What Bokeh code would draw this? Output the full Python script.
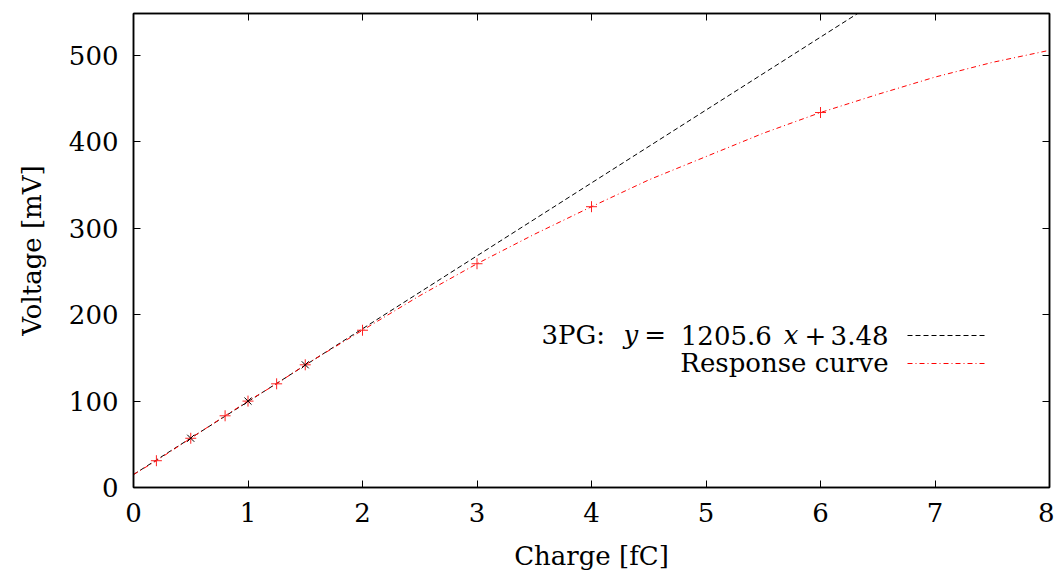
from bokeh.plotting import figure
from bokeh.models import (Range1d, FixedTicker, LinearAxis, Label, Legend, LegendItem)
from bokeh.embed import file_html
from bokeh.resources import INLINE

# ---- data ----
resp_x = [0.2, 0.5, 0.8, 1.0, 1.25, 1.5, 2.0, 3.0, 4.0, 6.0]
resp_y = [31, 57, 83, 100, 120, 142, 182, 259, 325, 434]
curve_x = [0, 0.2, 0.5, 0.8, 1.0, 1.25, 1.5, 2.0, 2.5, 3.0, 3.5, 4.0, 4.5, 5.0, 5.5, 6.0, 6.5, 7.0, 7.5, 8.0]
curve_y = [15, 31, 57, 83, 100, 120, 142, 182, 222, 259, 293, 325, 356, 383, 410, 434, 455, 475, 492, 506]
fit_pts_x = [0.5, 1.0, 1.5]
fit_pts_y = [57, 100, 142]
fit_line_x = [0, 8]
fit_line_y = [15, 690]
x_ticks = [0, 1, 2, 3, 4, 5, 6, 7, 8]
y_ticks = [0, 100, 200, 300, 400, 500]

FONT = "DejaVu Serif"
FS = "26px"

p = figure(frame_width=916, frame_height=474, output_backend="svg", toolbar_location=None,
           x_range=Range1d(0, 8), y_range=Range1d(0, 548.6),
           min_border_left=133, min_border_right=5, min_border_top=13, min_border_bottom=84,
           background_fill_color="white", border_fill_color="white")
p.xgrid.visible = False
p.ygrid.visible = False
p.outline_line_color = "black"
p.outline_line_width = 1.5

def style_axis(ax, ticks, show_labels):
    ax.ticker = FixedTicker(ticks=ticks)
    ax.major_tick_in = 7
    ax.major_tick_out = 0
    ax.minor_tick_in = 0
    ax.minor_tick_out = 0
    ax.axis_line_color = "black"
    ax.axis_line_width = 1.5
    ax.major_tick_line_color = "black"
    ax.major_tick_line_width = 1
    ax.major_label_text_font = FONT
    ax.major_label_text_color = "black"
    if show_labels:
        ax.major_label_text_font_size = FS
    else:
        ax.major_label_text_font_size = "0px"
        ax.major_label_text_color = None
        ax.major_label_standoff = 0

style_axis(p.xaxis[0], x_ticks, True)
style_axis(p.yaxis[0], y_ticks, True)
p.xaxis[0].major_label_standoff = 15
p.yaxis[0].major_label_standoff = 15
p.xaxis.axis_label = "Charge [fC]"
p.yaxis.axis_label = "Voltage [mV]"
for ax in (p.xaxis[0], p.yaxis[0]):
    ax.axis_label_text_font = FONT
    ax.axis_label_text_font_size = FS
    ax.axis_label_text_font_style = "normal"
    ax.axis_label_text_color = "black"
p.xaxis[0].axis_label_standoff = 16
p.yaxis[0].axis_label_standoff = 19

top = LinearAxis()
style_axis(top, x_ticks, False)
p.add_layout(top, "above")
right = LinearAxis()
style_axis(right, y_ticks, False)
p.add_layout(right, "right")

# ---- marks ----
r_fit = p.line(fit_line_x, fit_line_y, line_color="black", line_width=1, line_dash="5 3")
r_curve = p.line(curve_x, curve_y, line_color="#ff0000", line_width=1, line_dash="5 3 1 3")
p.scatter(resp_x, resp_y, marker="cross", size=11, line_color="#ff2020", line_width=1)
p.scatter(fit_pts_x, fit_pts_y, marker="x", size=10, line_color="black", line_width=1)

# ---- legend (samples) ----
legend = Legend(items=[LegendItem(label=" ", renderers=[r_fit]),
                       LegendItem(label=" ", renderers=[r_curve])],
                location=(774, 110), glyph_width=79, glyph_height=28,
                label_height=28, label_width=1, label_standoff=0,
                label_text_font_size="8px", label_text_color=None,
                padding=0, spacing=0, margin=0,
                border_line_color=None, background_fill_alpha=0)
p.add_layout(legend, "center")

# ---- legend texts ----
def txt(x, y, s, italic=False, align="left"):
    p.add_layout(Label(x=x, y=y, text=s, text_font=FONT, text_font_size=FS,
                       text_font_style="italic" if italic else "normal",
                       text_align=align, text_baseline="middle", text_color="black"))

row1 = 176.5
row2 = 144.0
txt(6.594, row2, "Response curve", align="right")
txt(3.563, row1, "3PG:")
txt(4.28, row1, "y", italic=True)
txt(4.46, row1, "=")
txt(4.78, row1, "1205.6")
txt(5.68, row1, "x", italic=True)
txt(5.86, row1, "+")
txt(6.594, row1, "3.48", align="right")

open("out.html", "w").write(file_html(p, INLINE))
